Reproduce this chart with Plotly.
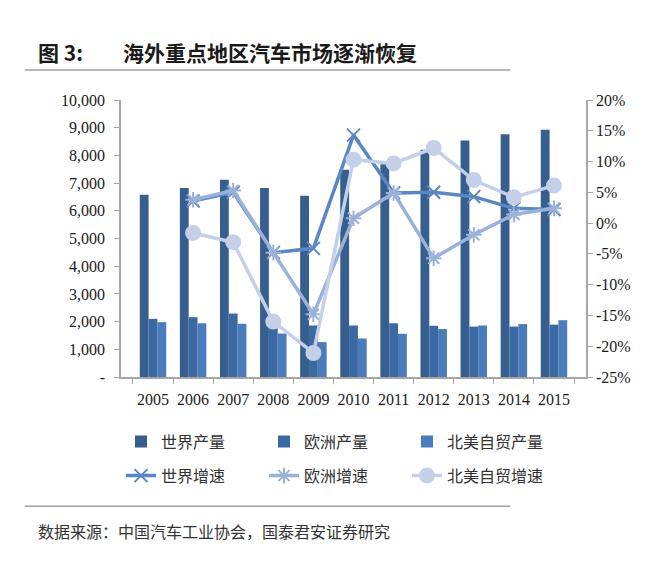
"""Overseas key-region auto market chart."""

import plotly.graph_objects as go

years = [str(y) for y in range(2005, 2016)]

world_output = [6580, 6820, 7120, 6820, 6540, 7480, 7680, 8200, 8540, 8760, 8930]
europe_output = [2100, 2160, 2290, 1780, 1860, 1860, 1940, 1850, 1820, 1820, 1890]
nafta_output = [1980, 1940, 1920, 1570, 1260, 1390, 1560, 1730, 1860, 1910, 2050]

world_growth = [None, 3.6, 5.0, -4.8, -4.1, 14.3, 4.9, 5.0, 4.3, 2.4, 2.2]
europe_growth = [None, 3.8, 5.3, -4.8, -14.8, 0.8, 4.9, -5.7, -1.9, 1.4, 2.4]
nafta_growth = [None, -1.6, -3.1, -16.0, -21.1, 10.3, 9.7, 12.2, 7.0, 4.2, 6.1]

left_ticks = [0, 1000, 2000, 3000, 4000, 5000, 6000, 7000, 8000, 9000, 10000]
left_labels = ["-", "1,000", "2,000", "3,000", "4,000", "5,000",
               "6,000", "7,000", "8,000", "9,000", "10,000"]
right_ticks = [-25, -20, -15, -10, -5, 0, 5, 10, 15, 20]
right_labels = ["-25%", "-20%", "-15%", "-10%", "-5%", "0%", "5%", "10%", "15%", "20%"]

TICK_FONT = dict(family="Liberation Serif, Times New Roman, serif", size=16, color="#1a1a1a")
CJK = "Noto Sans CJK SC"
AXIS_GREY = "#a6a6a6"

fig = go.Figure()

bar_specs = [
    ("世界产量", world_output, "#365e8f"),
    ("欧洲产量", europe_output, "#3d69a3"),
    ("北美自贸产量", nafta_output, "#4a7bbb"),
]
for name, vals, color in bar_specs:
    fig.add_trace(go.Bar(
        x=years, y=vals, name=name,
        marker=dict(color=color, line=dict(width=0)),
        legend="legend",
    ))

line_specs = [
    ("世界增速", world_growth, "#5b86c4", "x-thin", 13),
    ("欧洲增速", europe_growth, "#9ab1d9", "asterisk", 13),
    ("北美自贸增速", nafta_growth, "#c4d0e7", "circle", 14),
]
for name, vals, color, symbol, size in line_specs:
    fig.add_trace(go.Scatter(
        x=years, y=vals, name=name, yaxis="y2",
        mode="lines+markers",
        line=dict(color=color, width=3.5),
        marker=dict(symbol=symbol, size=size, color=color,
                    line=dict(color=color, width=2)),
        legend="legend2",
    ))

legend_style = dict(
    orientation="h", xanchor="left", yanchor="top",
    entrywidth=98, entrywidthmode="pixels",
    font=dict(family=CJK, size=16, color="#333333"),
    itemwidth=30, traceorder="normal",
)

fig.update_layout(
    width=660, height=564,
    margin=dict(l=113, r=82, t=92, b=195, autoexpand=False),
    paper_bgcolor="white", plot_bgcolor="white",
    barmode="group", bargap=0.34, bargroupgap=0,
    xaxis=dict(
        type="category", tickson="boundaries", automargin=False,
        showline=True, linecolor=AXIS_GREY, linewidth=1.5,
        ticks="outside", ticklen=5, tickcolor=AXIS_GREY,
        ticklabelstandoff=7, tickangle=0,
        tickfont=TICK_FONT, showgrid=False,
    ),
    yaxis=dict(
        range=[0, 10000], tickvals=left_ticks, ticktext=left_labels, automargin=False,
        showline=True, linecolor=AXIS_GREY, linewidth=1.5,
        ticks="outside", ticklen=5, tickcolor=AXIS_GREY,
        ticklabelstandoff=6,
        tickfont=TICK_FONT, showgrid=False, zeroline=False,
    ),
    yaxis2=dict(
        overlaying="y", side="right", range=[-25, 20], automargin=False,
        tickvals=right_ticks, ticktext=right_labels,
        showline=True, linecolor=AXIS_GREY, linewidth=1.5,
        ticks="outside", ticklen=5, tickcolor=AXIS_GREY,
        tickfont=TICK_FONT, showgrid=False, zeroline=False,
    ),
    legend=dict(x=0.0, y=-0.172, **legend_style),
    legend2=dict(x=0.0, y=-0.295, **legend_style),
    showlegend=True,
)

# title and source
fig.add_annotation(text="<b>图 3:</b>", xref="paper", yref="paper",
                   x=-0.183, y=1.175, xanchor="left", yanchor="middle",
                   showarrow=False, font=dict(family=CJK, size=21, color="#1a1a1a"))
fig.add_annotation(text="<b>海外重点地区汽车市场逐渐恢复</b>", xref="paper", yref="paper",
                   x=0.0, y=1.175, xanchor="left", yanchor="middle",
                   showarrow=False, font=dict(family=CJK, size=21, color="#1a1a1a"))
fig.add_annotation(text="数据来源：中国汽车工业协会，国泰君安证券研究", xref="paper", yref="paper",
                   x=-0.183, y=-0.556, xanchor="left", yanchor="middle",
                   showarrow=False, font=dict(family=CJK, size=16, color="#333333"))

for ypos in (1.108, -0.467):
    fig.add_shape(type="line", xref="paper", yref="paper",
                  x0=-0.207, x1=0.837, y0=ypos, y1=ypos,
                  line=dict(color="#a0a0a0", width=1.5))

fig.write_html("out.html")
